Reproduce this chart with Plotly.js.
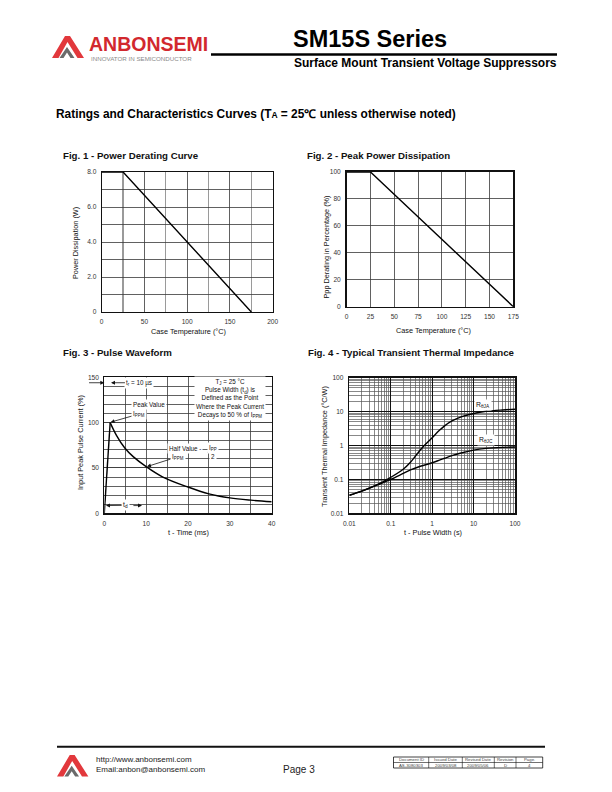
<!DOCTYPE html>
<html><head><meta charset="utf-8">
<script src="https://cdn.plot.ly/plotly-3.0.1.min.js"></script>
<style>html,body{margin:0;padding:0;background:#fff}#page{width:612px;height:792px}</style>
</head><body><div id="page"></div>
<script>
// ---------- DATA ----------
const fig1Temp = [0, 25, 175];
const fig1Power = [8, 8, 0];
const fig1YTickVals = [0, 2, 4, 6, 8];
const fig1YTickText = ['0', '2.0', '4.0', '6.0', '8.0'];

const fig2Temp = [0, 25, 175];
const fig2Percent = [100, 100, 0];

const pulseRiseTime = [0, 1.4];
const pulseRiseCurrent = [0, 100];
const pulseDecayTime = [1.4, 2.9, 4.9, 6.9, 10, 14, 20, 25, 30, 35, 40];
const pulseDecayCurrent = [100, 86, 72, 62.5, 51.5, 40, 29, 21.5, 17, 14.5, 12.8];
const fig3YTickVals = [0, 50, 100, 150];

const impTime = [0.01, 0.02, 0.05, 0.1, 0.2, 0.3, 0.5, 0.7, 1, 1.5, 2, 3, 5, 10, 20, 50, 100];
const zthJA  = [0.034, 0.045, 0.072, 0.115, 0.2, 0.32, 0.7, 1.1, 1.7, 2.8, 3.8, 5.3, 7, 8.8, 10.2, 11.2, 11.7];
const zthJC  = [0.034, 0.045, 0.07, 0.1, 0.15, 0.19, 0.24, 0.27, 0.31, 0.37, 0.42, 0.5, 0.6, 0.73, 0.82, 0.88, 0.9];
const logTickVals = [0.01, 0.1, 1, 10, 100];
const logTickText = ['0.01', '0.1', '1', '10', '100'];

const tableHead = ['Document ID', 'Issued Date', 'Revised Date', 'Revision', 'Page.'];
const tableRow  = ['AS-3080303', '2009/03/08', '2009/05/06', 'D', '4'];

// ---------- LAYOUT HELPERS ----------
const W = 612, H = 792;
const X = p => p / W, Y = p => 1 - p / H;
const FONT = '"Liberation Sans", Arial, Helvetica, sans-serif';
const tickFont = {family: FONT, size: 6.6, color: '#333'};

function ax(extra) {
  return Object.assign({
    showline: true, mirror: true, linecolor: '#111', linewidth: 1,
    ticks: '', showgrid: true, gridcolor: '#3a3a3a', gridwidth: 0.8,
    zeroline: false, tickfont: tickFont, fixedrange: true, ticklabelstandoff: 3
  }, extra);
}
const minorLog = [];
[0.01, 0.1, 1, 10].forEach(d => { for (let k = 2; k <= 9; k++) minorLog.push(+(d * k).toPrecision(3)); });

const traces = [
  {x: fig1Temp, y: fig1Power, xaxis: 'x', yaxis: 'y', mode: 'lines', line: {color: '#000', width: 1.4}, hoverinfo: 'skip'},
  {x: fig2Temp, y: fig2Percent, xaxis: 'x2', yaxis: 'y2', mode: 'lines', line: {color: '#000', width: 1.4}, hoverinfo: 'skip'},
  {x: pulseRiseTime, y: pulseRiseCurrent, xaxis: 'x3', yaxis: 'y3', mode: 'lines', line: {color: '#000', width: 1.4}, hoverinfo: 'skip'},
  {x: pulseDecayTime, y: pulseDecayCurrent, xaxis: 'x3', yaxis: 'y3', mode: 'lines', line: {color: '#000', width: 1.4, shape: 'spline', smoothing: 1}, hoverinfo: 'skip'},
  {x: impTime, y: zthJA, xaxis: 'x4', yaxis: 'y4', mode: 'lines', line: {color: '#000', width: 1.4, shape: 'spline'}, hoverinfo: 'skip'},
  {x: impTime, y: zthJC, xaxis: 'x4', yaxis: 'y4', mode: 'lines', line: {color: '#000', width: 1.4, shape: 'spline'}, hoverinfo: 'skip'}
];

const ann = [];
function txt(t, x, y, size, opts) {
  ann.push(Object.assign({text: t, x: X(x), y: Y(y), xref: 'paper', yref: 'paper', showarrow: false,
    xanchor: 'left', yanchor: 'middle', font: {family: FONT, size: size, color: '#111'}}, opts || {}));
}
// header
txt('<b>SM15S Series</b>', 291, 39, 23.5, {font: {family: FONT, size: 23.5, color: '#000'}});
txt('<b>Surface Mount Transient Voltage Suppressors</b>', 292, 63, 12, {font: {family: FONT, size: 12, color: '#000'}});
txt('<b>ANBONSEMI</b>', 87, 43.5, 19.5, {font: {family: FONT, size: 19.5, color: '#d2282e'}});
txt('INNOVATOR IN SEMICONDUCTOR', 89, 58.8, 6.2, {font: {family: FONT, size: 6.2, color: '#8a8a8a'}});
txt('<b>Ratings and Characteristics Curves (T<span style="font-size:8.5px">A</span> = 25℃ unless otherwise noted)</b>', 54, 114, 11.9, {font: {family: FONT, size: 11.9, color: '#000'}});
// figure titles
const ftf = 9.7;
txt('<b>Fig. 1 - Power Derating Curve</b>', 61, 155, ftf);
txt('<b>Fig. 2 - Peak Power Dissipation</b>', 305, 155, ftf);
txt('<b>Fig. 3 - Pulse Waveform</b>', 61, 352.5, ftf);
txt('<b>Fig. 4 - Typical Transient Thermal Impedance</b>', 306, 352.5, ftf);
// axis titles
const atf = 7.3;
txt('Case Temperature (°C)', 188, 332, atf, {xanchor: 'center'});
txt('Power Dissipation (W)', 75, 243, atf, {xanchor: 'center', textangle: -90});
txt('Case Temperature (°C)', 433, 330.5, atf, {xanchor: 'center'});
txt('Ppp Derating in Percentage (%)', 325.5, 247, atf, {xanchor: 'center', textangle: -90});
txt('t - Time (ms)', 188, 532, atf, {xanchor: 'center'});
txt('Input Peak Pulse Current (%)', 80, 443, atf, {xanchor: 'center', textangle: -90});
txt('t - Pulse Width (s)', 433, 532, atf, {xanchor: 'center'});
txt('Transient Thermal Impedance (°C/W)', 324, 447, atf, {xanchor: 'center', textangle: -90});
// footer
txt('http://www.anbonsemi.com', 93.5, 759, 8, {font: {family: FONT, size: 8, color: '#222'}});
txt('Email:anbon@anbonsemi.com', 93.5, 769.5, 8, {font: {family: FONT, size: 8, color: '#222'}});
txt('Page 3', 298.5, 769, 10, {xanchor: 'center', font: {family: FONT, size: 10, color: '#222'}});
const colX = [393.5, 428.7, 462.3, 494.3, 516, 542.7];
tableHead.forEach((t, i) => {
  txt(t, (colX[i] + colX[i + 1]) / 2, 759.7, 4.3, {xanchor: 'center', font: {family: FONT, size: 4.3, color: '#444'}});
  txt(tableRow[i], (colX[i] + colX[i + 1]) / 2, 765.2, 4.3, {xanchor: 'center', font: {family: FONT, size: 4.3, color: '#444'}});
});

// in-plot annotations, Fig 3
const f3 = {xref: 'x3', yref: 'y3', showarrow: false, font: {family: FONT, size: 6.3, color: '#111'}, bgcolor: '#fff', borderpad: 1};
function a3(o) { ann.push(Object.assign({}, f3, o)); }
const arrowStyle = {showarrow: true, axref: 'x3', ayref: 'y3', arrowhead: 2, arrowsize: 1, arrowwidth: 0.8, arrowcolor: '#111', standoff: 0};
a3({text: 'T<sub>J</sub> = 25 °C<br>Pulse Width (t<sub>d</sub>) is<br>Defined as the Point<br>Where the Peak Current<br>Decays to 50 % of I<sub>PPM</sub>', x: 30, y: 126.5, align: 'center'});
a3(Object.assign({}, arrowStyle, {text: 't<sub>r</sub> = 10 µs', x: 1.6, y: 144, ax: 8.4, ay: 144}));
ann.push(Object.assign({}, arrowStyle, {xref: 'x3', yref: 'y3', text: '', x: 0, y: 144, ax: -4, ay: 144}));
a3({text: 'Peak Value', x: 10.7, y: 119.5});
a3(Object.assign({}, arrowStyle, {text: 'I<sub>PPM</sub>', x: 1.5, y: 100.5, ax: 8.3, ay: 109.5}));
a3({text: 'Half Value -', x: 19.4, y: 71.7});
a3(Object.assign({}, arrowStyle, {text: 'I<sub>PPM</sub>', x: 10.2, y: 51.5, ax: 17.6, ay: 62.4}));
a3({text: 'I<sub>PP</sub>', x: 25.9, y: 72.2});
a3({text: '2', x: 25.9, y: 62.4});
a3(Object.assign({}, arrowStyle, {text: 't<sub>d</sub>', x: 0.4, y: 8.5, ax: 5.1, ay: 8.8, font: {family: FONT, size: 6.8, color: '#111'}}));
ann.push(Object.assign({}, arrowStyle, {xref: 'x3', yref: 'y3', text: '', x: 9.0, y: 8.5, ax: 6.6, ay: 8.5}));

// Fig 4 curve labels
const f4 = {xref: 'x4', yref: 'y4', showarrow: false, font: {family: FONT, size: 6.8, color: '#111'}, bgcolor: '#fff', borderpad: 1};
ann.push(Object.assign({}, f4, {text: 'R<sub>θJA</sub>', x: Math.log10(16.6), y: Math.log10(15.7)}));
ann.push(Object.assign({}, f4, {text: 'R<sub>θJC</sub>', x: Math.log10(19.5), y: Math.log10(1.45)}));

// shapes
const shapes = [];
function pline(x0, y0, x1, y1, color, width) {
  shapes.push({type: 'line', xref: 'paper', yref: 'paper', x0: X(x0), y0: Y(y0), x1: X(x1), y1: Y(y1), line: {color: color, width: width}});
}
function ppath(pts, fill) {
  const d = 'M ' + pts.map(p => X(p[0]) + ',' + Y(p[1])).join(' L ') + ' Z';
  shapes.push({type: 'path', xref: 'paper', yref: 'paper', path: d, fillcolor: fill, line: {width: 0}});
}
function logo(x0, y0, s) {
  const P = pts => pts.map(p => [x0 + p[0] * s, y0 + p[1] * s]);
  ppath(P([[0, 22], [13, 0], [18, 0], [32, 22], [25.5, 22], [15.5, 6], [6.5, 22]]), '#e2383c');
  ppath(P([[7.5, 22], [15, 11], [22.5, 22], [18.5, 22], [15, 16.5], [11.5, 22]]), '#6b6b6b');
}
logo(52, 36, 1);
logo(57, 755, 0.98);
pline(211, 54.5, 557, 54.5, '#000', 2.4);
pline(57, 746.7, 545, 746.7, '#111', 2);
shapes.push({type: 'line', xref: 'x3', yref: 'y3', x0: 24.7, x1: 27.1, y0: 67.3, y1: 67.3, line: {color: '#111', width: 0.7}});
shapes.push({type: 'rect', xref: 'paper', yref: 'paper', x0: X(colX[0]), x1: X(colX[5]), y0: Y(768), y1: Y(757), line: {color: '#111', width: 0.8}});
pline(colX[0], 762.5, colX[5], 762.5, '#111', 0.6);
for (let i = 1; i < 5; i++) pline(colX[i], 757, colX[i], 768, '#111', 0.6);

const layout = {
  width: W, height: H, margin: {l: 0, r: 0, t: 0, b: 0},
  paper_bgcolor: '#fff', plot_bgcolor: '#fff', showlegend: false,
  font: {family: FONT},
  xaxis: ax({domain: [X(101.7), X(272.7)], anchor: 'y', range: [0, 200], tickmode: 'linear', tick0: 0, dtick: 50,
    gridcolor: '#3a3a3a', minor: {tickmode: 'linear', tick0: 25, dtick: 50, showgrid: true, gridcolor: '#9a9a9a', gridwidth: 1.2}}),
  yaxis: ax({domain: [Y(312), Y(172)], anchor: 'x', range: [0, 8], tickvals: fig1YTickVals, ticktext: fig1YTickText,
    minor: {tickmode: 'linear', tick0: 1, dtick: 2, showgrid: true, gridcolor: '#3a3a3a', gridwidth: 0.8}}),
  xaxis2: ax({domain: [X(346.7), X(513.3)], anchor: 'y2', range: [0, 175], tickmode: 'linear', tick0: 0, dtick: 25, linewidth: 1.6}),
  yaxis2: ax({domain: [Y(306.7), Y(172)], anchor: 'x2', range: [0, 100], tickmode: 'linear', tick0: 0, dtick: 20, linewidth: 1.6}),
  xaxis3: ax({domain: [X(104.3), X(271.7)], anchor: 'y3', range: [0, 40], tickmode: 'linear', tick0: 0, dtick: 10, linewidth: 1.5,
    minor: {tickmode: 'linear', tick0: 5, dtick: 10, showgrid: true, gridcolor: '#3a3a3a', gridwidth: 0.8}}),
  yaxis3: ax({domain: [Y(513.3), Y(377.3)], anchor: 'x3', range: [0, 150], tickvals: fig3YTickVals,
    minor: {tickmode: 'linear', tick0: 0, dtick: 10, showgrid: true, gridcolor: '#3a3a3a', gridwidth: 0.8}}),
  xaxis4: ax({domain: [X(349.3), X(515)], anchor: 'y4', type: 'log', range: [-2, 2], tickvals: logTickVals, ticktext: logTickText,
    linewidth: 1.5, gridcolor: '#111', gridwidth: 1.1,
    minor: {tickmode: 'array', tickvals: minorLog, showgrid: true, gridcolor: '#555', gridwidth: 0.7}}),
  yaxis4: ax({domain: [Y(513.3), Y(377.7)], anchor: 'x4', type: 'log', range: [-2, 2], tickvals: logTickVals, ticktext: logTickText,
    linewidth: 1.5, gridcolor: '#111', gridwidth: 1.1,
    minor: {tickmode: 'array', tickvals: minorLog, showgrid: true, gridcolor: '#555', gridwidth: 0.7}}),
  annotations: ann,
  shapes: shapes
};

Plotly.newPlot('page', traces, layout, {staticPlot: true, displayModeBar: false});
</script>
</body></html>
